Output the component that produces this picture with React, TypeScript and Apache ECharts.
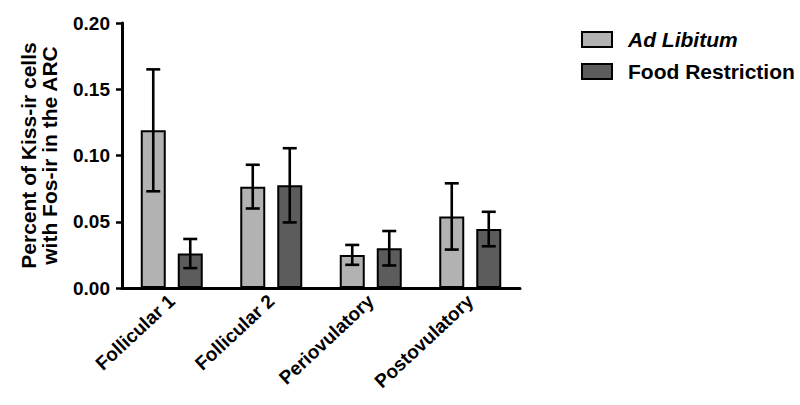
import React, { useEffect, useRef } from "react";
import * as echarts from "echarts";

const categories = ["Follicular 1", "Follicular 2", "Periovulatory", "Postovulatory"];
const seriesNames = ["Ad Libitum", "Food Restriction"];
const adLibitum = [0.119, 0.0765, 0.025, 0.054];
const adLibitumErr = [0.046, 0.0165, 0.0075, 0.025];
const foodRestriction = [0.026, 0.0775, 0.03, 0.0445];
const foodRestrictionErr = [0.011, 0.028, 0.013, 0.013];
const yTicks = { min: 0, max: 0.2, interval: 0.05 };

const FONT = "Liberation Sans, Arial, sans-serif";
const BAR_W = 25;
const BAR_GAP = 12;

function errorSeries(values: number[], errs: number[], offset: number) {
  return {
    type: "custom",
    z: 10,
    silent: true,
    data: values.map((v, i) => [i, v, errs[i]]),
    renderItem: (_params: any, api: any) => {
      const x = api.value(0);
      const y = api.value(1);
      const e = api.value(2);
      const top = api.coord([x, y + e]);
      const bot = api.coord([x, y - e]);
      const cx = top[0] + offset;
      const cap = 7;
      const style = { stroke: "#000", lineWidth: 2.6 };
      return {
        type: "group",
        children: [
          { type: "line", shape: { x1: cx, y1: top[1], x2: cx, y2: bot[1] }, style },
          { type: "line", shape: { x1: cx - cap, y1: top[1], x2: cx + cap, y2: top[1] }, style },
          { type: "line", shape: { x1: cx - cap, y1: bot[1], x2: cx + cap, y2: bot[1] }, style },
        ],
      };
    },
  };
}

export default function App() {
  const ref = useRef<HTMLDivElement>(null);
  useEffect(() => {
    if (!ref.current) return;
    const chart = echarts.init(ref.current, undefined, { renderer: "svg" });
    const off = (BAR_W + BAR_GAP) / 2;
    chart.setOption({
      animation: false,
      backgroundColor: "#fff",
      grid: { left: 122, right: 280, top: 23, bottom: 117 },
      legend: {
        data: seriesNames,
        orient: "vertical",
        left: 576,
        top: 24,
        icon: "rect",
        itemWidth: 30,
        itemHeight: 15,
        itemGap: 11,
        selectedMode: false,
        formatter: (name: string) => (name === "Ad Libitum" ? "{i|" + name + "}" : "{b|" + name + "}"),
        textStyle: {
          padding: [0, 0, 0, 11],
          rich: {
            i: { fontStyle: "italic", fontWeight: "bold", fontSize: 21, fontFamily: FONT, color: "#000" },
            b: { fontWeight: "bold", fontSize: 21, fontFamily: FONT, color: "#000" },
          },
        },
      },
      xAxis: {
        type: "category",
        data: categories,
        axisLine: { lineStyle: { color: "#000", width: 3 } },
        axisTick: { show: false },
        axisLabel: {
          interval: 0,
          rotate: 43,
          margin: 10,
          color: "#000",
          fontWeight: "bold",
          fontSize: 19,
          fontFamily: FONT,
        },
      },
      yAxis: {
        type: "value",
        min: yTicks.min,
        max: yTicks.max,
        interval: yTicks.interval,
        name: "Percent of Kiss-ir cells\nwith Fos-ir in the ARC",
        nameLocation: "middle",
        nameRotate: 90,
        nameGap: 62,
        nameTextStyle: { color: "#000", fontWeight: "bold", fontSize: 21, fontFamily: FONT, lineHeight: 21 },
        axisLine: { show: true, lineStyle: { color: "#000", width: 3 } },
        axisTick: { show: true, length: 6, lineStyle: { color: "#000", width: 2.5 } },
        splitLine: { show: false },
        axisLabel: {
          margin: 12,
          color: "#000",
          fontWeight: "bold",
          fontSize: 19,
          fontFamily: FONT,
          formatter: (v: number) => v.toFixed(2),
        },
      },
      series: [
        {
          name: seriesNames[0],
          type: "bar",
          data: adLibitum,
          barWidth: BAR_W,
          barGap: (BAR_GAP / BAR_W) * 100 + "%",
          itemStyle: { color: "#b2b2b2", borderColor: "#000", borderWidth: 2 },
        },
        {
          name: seriesNames[1],
          type: "bar",
          data: foodRestriction,
          barWidth: BAR_W,
          itemStyle: { color: "#5c5c5c", borderColor: "#000", borderWidth: 2 },
        },
        errorSeries(adLibitum, adLibitumErr, -off),
        errorSeries(foodRestriction, foodRestrictionErr, off),
      ],
    });
    return () => chart.dispose();
  }, []);
  return <div ref={ref} style={{ position: "absolute", left: 0, top: 0, width: 800, height: 405 }} />;
}
